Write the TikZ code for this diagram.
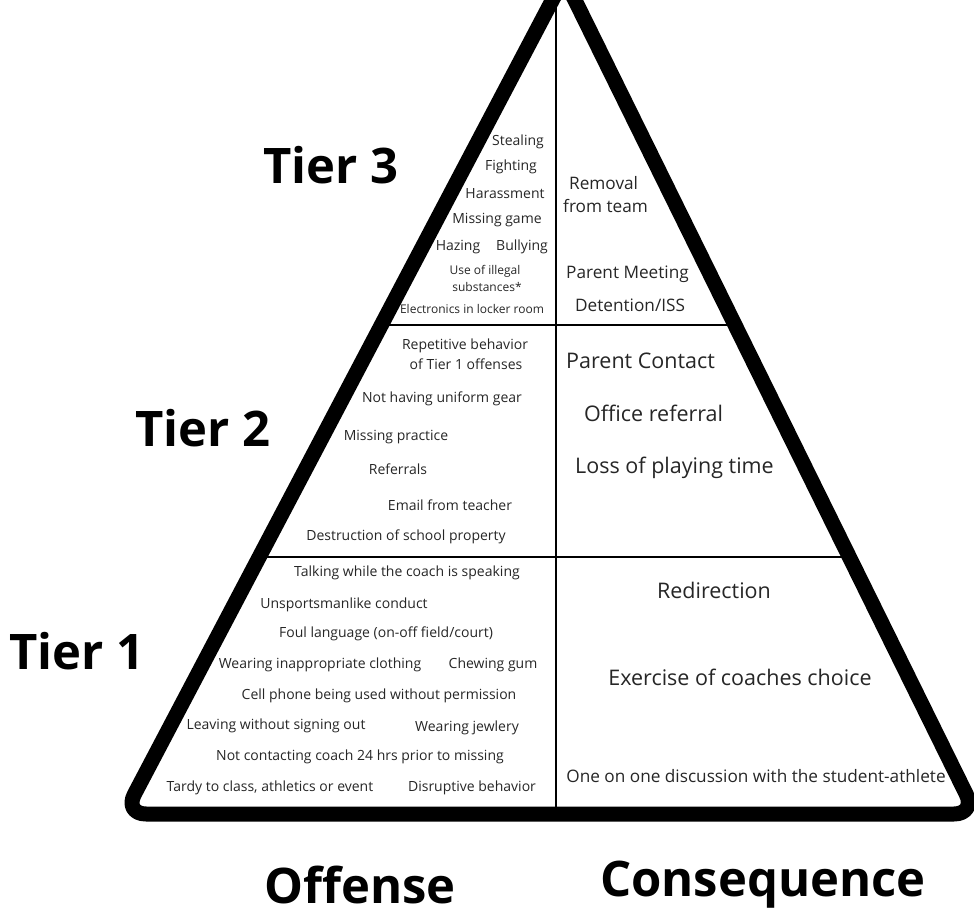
\documentclass[tikz,border=0pt]{standalone}
\usepackage{fontspec}
\setmainfont{Open Sans}
\usepackage{tikz}
\usetikzlibrary{calc}
\usetikzlibrary{positioning}

\begin{document}
\begin{tikzpicture}[x=1pt, y=-1pt, node distance=6pt,
offense/.style={inner sep=0pt, text=black!85, font=\fontsize{14}{16}\selectfont},
small/.style={inner sep=0pt, text=black!85, font=\fontsize{12}{14}\selectfont},
consequence/.style={inner sep=0pt, text=black!85, font=\fontsize{17.2}{20}\selectfont},
big/.style={inner sep=0pt, text=black!85, font=\fontsize{21.5}{24}\selectfont},
tier/.style={inner sep=0pt, font=\fontsize{49}{54}\bfseries\selectfont},
frame/.style={line width=15pt, line join=round, rounded corners=22pt},
divider/.style={line width=2.5pt}]

\useasboundingbox (0,0) rectangle (974,915);

% pyramid corners
\coordinate (apex) at (564,-22);
\coordinate (bl) at (124,814);
\coordinate (br) at (976,814);
\coordinate (top) at (556,-5);
\coordinate (base) at (556,814);

% tier borders on the two sides
\coordinate (l3) at ($(apex)!0.415!(bl)$);
\coordinate (r3) at ($(apex)!0.415!(br)$);
\coordinate (l2) at ($(apex)!0.6926!(bl)$);
\coordinate (r2) at ($(apex)!0.6926!(br)$);

\draw [divider] (top) -- (base);
\draw [divider] (l3) -- (r3);
\draw [divider] (l2) -- (r2);
\draw [frame] (apex) -- (br) -- (bl) -- cycle;

% tier names
\node [tier] (tierc) at (331,165) {Tier 3};
\node [tier] (tierb) at (203,428) {Tier 2};
\node [tier] (tiera) at (77,651) {Tier 1};
\node [tier] (offense) at (360,885) {Offense};
\node [tier] (consequence) at (763,885) {Consequence};

% tier 3
\node [offense] (steal) at (518,142) {Stealing};
\node [offense] (fight) at (511,167) {Fighting};
\node [offense] (harass) at (505,194) {Harassment};
\node [offense] (game) at (497,220) {Missing game};
\node [offense] (hazing) at (458,247) {Hazing};
\node [offense] (bully) at (522,247) {Bullying};
\node [small] (illegal) at (485,271) {Use of illegal};
\node [small] (subst) at (487,287) {substances*};
\node [small] (locker) at (472,309) {Electronics in locker room};

\node [consequence, anchor=west] (removal) at (569,183) {Removal};
\node [consequence, anchor=west] (team) at (563,206) {from team};
\node [consequence, anchor=west] (meeting) at (566,274) {Parent Meeting};
\node [consequence, anchor=west] (iss) at (575,305) {Detention/ISS};

% tier 2
\node [offense] (repeat) at (465,346) {Repetitive behavior};
\node [offense] (ofone) at (466,364) {of Tier 1 offenses};
\node [offense] (gear) at (442,399) {Not having uniform gear};
\node [offense] (practice) at (396,437) {Missing practice};
\node [offense] (refer) at (398,469) {Referrals};
\node [offense] (email) at (450,505) {Email from teacher};
\node [offense] (property) at (406,537) {Destruction of school property};

\node [big, anchor=west] (contact) at (566,361) {Parent Contact};
\node [big, anchor=west] (office) at (584,413) {Office referral};
\node [big, anchor=west] (loss) at (575,468) {Loss of playing time};

% tier 1
\node [offense] (talk) at (407,573) {Talking while the coach is speaking};
\node [offense] (unsport) at (344,605) {Unsportsmanlike conduct};
\node [offense] (foul) at (386,634) {Foul language (on-off field/court)};
\node [offense] (cloth) at (320,665) {Wearing inappropriate clothing};
\node [offense] (gum) at (493,665) {Chewing gum};
\node [offense] (phone) at (379,696) {Cell phone being used without permission};
\node [offense] (leave) at (276,726) {Leaving without signing out};
\node [offense] (jewel) at (467,728) {Wearing jewlery};
\node [offense] (notify) at (360,757) {Not contacting coach 24 hrs prior to missing};
\node [offense] (tardy) at (270,788) {Tardy to class, athletics or event};
\node [offense] (disrupt) at (472,788) {Disruptive behavior};

\node [big] (redirect) at (714,590) {Redirection};
\node [big] (exercise) at (740,677) {Exercise of coaches choice};
\node [consequence] (talkone) at (756,776) {One on one discussion with the student-athlete};
\end{tikzpicture}
\end{document}
